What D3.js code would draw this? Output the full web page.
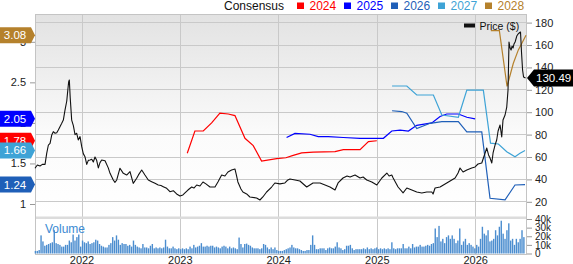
<!DOCTYPE html>
<html>
<head>
<meta charset="utf-8">
<script src="https://cdn.jsdelivr.net/npm/d3@7"></script>
<style>
  body { margin: 0; background: #fff; }
  text { font-family: "Liberation Sans", Arial, sans-serif; }
</style>
</head>
<body>
<div id="chart"></div>
<script>
// ---- data (times are decimal years) ----
const priceTimes = [2021.522, 2021.546, 2021.573, 2021.597, 2021.624, 2021.641, 2021.658, 2021.675, 2021.692, 2021.708,
  2021.726, 2021.743, 2021.759, 2021.776, 2021.794, 2021.81, 2021.827, 2021.845, 2021.856, 2021.864,
  2021.871, 2021.88, 2021.895, 2021.912, 2021.929, 2021.946, 2021.962, 2021.98, 2021.997, 2022.013,
  2022.03, 2022.048, 2022.064, 2022.081, 2022.099, 2022.115, 2022.132, 2022.149, 2022.166, 2022.183,
  2022.2, 2022.234, 2022.267, 2022.285, 2022.318, 2022.335, 2022.353, 2022.386, 2022.42, 2022.454,
  2022.488, 2022.521, 2022.556, 2022.574, 2022.607, 2022.64, 2022.674, 2022.708, 2022.742, 2022.775,
  2022.803, 2022.826, 2022.861, 2022.894, 2022.928, 2022.962, 2022.996, 2023.026, 2023.047, 2023.077,
  2023.115, 2023.138, 2023.166, 2023.199, 2023.23, 2023.26, 2023.301, 2023.352, 2023.382, 2023.42,
  2023.453, 2023.484, 2023.521, 2023.555, 2023.57, 2023.585, 2023.616, 2023.636, 2023.674, 2023.707,
  2023.775, 2023.809, 2023.839, 2023.877, 2023.928, 2023.961, 2024.012, 2024.063, 2024.093, 2024.114,
  2024.165, 2024.215, 2024.284, 2024.348, 2024.419, 2024.47, 2024.52, 2024.571, 2024.602, 2024.652,
  2024.693, 2024.724, 2024.774, 2024.825, 2024.856, 2024.893, 2024.944, 2024.995, 2025.046, 2025.097,
  2025.12, 2025.147, 2025.161, 2025.211, 2025.262, 2025.3, 2025.351, 2025.401, 2025.452, 2025.503,
  2025.554, 2025.567, 2025.587, 2025.638, 2025.706, 2025.757, 2025.791, 2025.821, 2025.841, 2025.872,
  2025.91, 2025.96, 2025.994, 2026.024, 2026.062, 2026.096, 2026.113, 2026.131, 2026.146, 2026.164,
  2026.177, 2026.197, 2026.214, 2026.228, 2026.248, 2026.265, 2026.278, 2026.299, 2026.316, 2026.329,
  2026.339, 2026.35, 2026.36, 2026.37, 2026.38, 2026.39, 2026.401, 2026.418, 2026.431, 2026.441,
  2026.456, 2026.466, 2026.477, 2026.487, 2026.507];
const priceValues = [50.0, 52.9, 52.0, 53.4, 53.4, 63.3, 70.7, 72.2, 79.6, 82.6,
  81.2, 81.7, 84.1, 87.1, 90.1, 93.0, 101.9, 110, 120, 127,
  128.8, 113, 93, 88, 80, 81.2, 75.2, 78.2, 69.2, 63,
  60.3, 53.4, 57, 57.3, 58, 55.5, 60, 57, 50.3, 55,
  57.3, 56.6, 50.3, 45.4, 39.5, 37.4, 39.5, 50.0, 45.4, 43.9,
  46.9, 36.5, 41, 44, 48.4, 43.9, 39.5, 38, 36.5, 35,
  34.5, 33.5, 32, 29, 29.9, 27, 25.2, 26.1, 27.9, 30.5,
  33.2, 32.3, 35, 34.1, 37.7, 36, 33.2, 33.2, 37.7, 43.9,
  43, 46.6, 48.4, 49.3, 43.9, 37.7, 31.4, 28.75, 27, 24.3,
  23.4, 21.6, 24.3, 28.75, 33.2, 36.8, 36, 36.8, 39.5, 40.4,
  39.5, 38.6, 33.2, 36.8, 36.8, 35, 33.2, 30.5, 36.8, 41.25,
  43, 42.1, 43.9, 41.25, 42.1, 39.5, 37.7, 35, 41.25, 45.7,
  43, 43.9, 41.25, 33.2, 27.9, 32.3, 30.5, 28.75, 27.9, 28.75,
  28.75, 27, 32.3, 33.2, 36.8, 39.5, 41.25, 45.7, 50.2, 46.6,
  48.4, 50.2, 51.1, 53.75, 54.6, 63.6, 68, 61.8, 59.1, 54.6,
  63.6, 70.7, 75.2, 83.2, 88.6, 77.9, 93, 97.5, 104.6, 119.8,
  162.7, 157.3, 155.5, 159.1, 157.3, 160.9, 162.7, 168, 169.8, 170.7,
  171.6, 153.75, 137.7, 131.4, 130.49];

const eps2024Times = [2023.07, 2023.148, 2023.233, 2023.318, 2023.402, 2023.487, 2023.555, 2023.657, 2023.741, 2023.826,
  2023.979, 2024.073, 2024.147, 2024.233, 2024.351, 2024.571, 2024.655, 2024.825, 2024.91, 2024.995];
const eps2024Values = [1.625, 1.90, 1.90, 2.0, 2.12, 2.11, 2.09, 1.81, 1.72, 1.53,
  1.56, 1.57, 1.60, 1.63, 1.64, 1.645, 1.67, 1.67, 1.77, 1.78];

const eps2025Times = [2024.08, 2024.165, 2024.317, 2024.401, 2024.503, 2024.655, 2024.825, 2025.062, 2025.147, 2025.232,
  2025.316, 2025.401, 2025.554, 2025.638, 2025.706, 2025.824, 2025.91, 2025.994];
const eps2025Values = [1.82, 1.87, 1.86, 1.83, 1.83, 1.82, 1.81, 1.81, 1.90, 1.91,
  1.90, 1.97, 2.00, 2.08, 2.11, 2.11, 2.07, 2.05];

const eps2026Times = [2025.15, 2025.249, 2025.3, 2025.401, 2025.537, 2025.656, 2025.824, 2025.91, 2026.062, 2026.146,
  2026.299, 2026.4, 2026.502];
const eps2026Values = [2.15, 2.14, 2.12, 1.93, 1.995, 2.015, 2.015, 1.89, 1.89, 1.07,
  1.05, 1.234, 1.24];

const eps2027Times = [2025.15, 2025.3, 2025.401, 2025.57, 2025.656, 2025.824, 2025.91, 2026.078, 2026.151, 2026.231,
  2026.316, 2026.4, 2026.451, 2026.502];
const eps2027Values = [2.455, 2.455, 2.344, 2.344, 2.097, 2.07, 2.405, 2.405, 1.75, 1.74,
  1.645, 1.583, 1.625, 1.66];

const eps2028Times = [2026.154, 2026.241, 2026.319, 2026.383, 2026.434, 2026.512];
const eps2028Values = [3.137, 3.137, 2.45, 2.735, 2.9, 3.08];

// weekly volume in thousands, first week starting volumeStart
const volumeStart = "2021-07-12";
const volumeValues = [3, 3, 4, 21, 14, 9, 10, 11, 12, 13, 27, 12, 11, 10, 8, 8, 10, 10, 15, 13,
  22, 15, 19, 22, 8, 15, 13, 12, 14, 11, 12, 13, 16, 15, 11, 9, 8, 7, 7, 10,
  12, 19, 15, 21, 16, 10, 12, 11, 11, 9, 10, 8, 15, 10, 8, 7, 6, 11, 7, 7,
  6, 9, 11, 6, 7, 6, 7, 6, 7, 16, 8, 6, 6, 8, 6, 5, 6, 5, 6, 5,
  6, 5, 8, 6, 10, 7,
  8, 9, 12, 8, 8, 9, 8, 9, 9, 7, 8, 7, 6, 8, 9, 8, 6, 8, 6, 7,
  6, 5, 18.5, 11, 7, 11, 11.5, 10, 9, 7, 6, 6, 6, 5, 6, 11, 10, 7, 5, 7,
  5, 7, 4, 3, 3, 3, 4, 5, 6, 7, 10, 7, 6, 6, 5, 4, 3, 3, 4, 4,
  10, 21, 10, 5, 5, 6, 6, 6, 4, 6, 7, 6, 6, 8, 13, 7, 6, 4, 5, 9,
  9, 10, 6, 4, 5, 5, 5,
  5, 6, 5, 7, 5, 6, 5, 6, 7, 5,
  6, 5, 6, 5, 6, 5, 13, 6, 5, 6, 6, 6, 11, 6, 6, 8, 6, 11, 7, 8,
  8, 10, 8, 8, 9, 10, 9, 11, 12, 29, 19, 32, 14, 17, 12, 19, 21, 17, 21, 17,
  12, 15, 29, 10, 14, 17, 10, 12, 10, 8, 6, 10, 8, 17, 31, 23, 21, 27, 14, 15,
  17, 27, 21, 31, 38, 23, 17, 27, 35, 15, 17, 10, 17, 13, 17, 27, 19];

const priceTicks = [20, 40, 60, 80, 100, 120, 140, 160, 180];
const epsTicks = [1, 1.5, 2, 2.5, 3];
const volumeTicks = [0, 10, 20, 30, 40];
const volumeTickLabels = ["0", "10k", "20k", "30k", "40k"];
const yearTicks = [2022, 2023, 2024, 2025, 2026];
const legendYears = ["2024", "2025", "2026", "2027", "2028"];

// ---- layout ----
const svgWidth = 573;
const svgHeight = 264;
const plotLeft = 35, plotRight = 527, plotTop = 14;
const priceBottom = 216.5, volTop = 219, volBottom = 253.5;

const colors = {
  "2024": "#ff0000",
  "2025": "#0000ff",
  "2026": "#1f5fb8",
  "2027": "#3ea3d6",
  "2028": "#b5812c"
};
const gridColor = "#c9c9c9";
const textColor = "#222";

const yearToDate = t => {
  const y = Math.floor(t);
  const a = new Date(y, 0, 1), b = new Date(y + 1, 0, 1);
  return new Date(a.getTime() + (t - y) * (b - a));
};

const x = d3.scaleTime()
  .domain([yearToDate(2021.522), yearToDate(2026.522)])
  .range([plotLeft, plotRight]);
const yPrice = d3.scaleLinear().domain([0, 180]).range([224.2, 22.6]);
const yEps = d3.scaleLinear().domain([1, 3]).range([204, 41.8]);
const yVol = d3.scaleLinear().domain([0, 40]).range([volBottom, volTop]);

const svg = d3.select("#chart").append("svg")
  .attr("width", svgWidth)
  .attr("height", svgHeight);

// background gradient for price pane
const grad = svg.append("defs").append("linearGradient")
  .attr("id", "bg").attr("x1", 0).attr("y1", 0).attr("x2", 0).attr("y2", 1);
grad.append("stop").attr("offset", "0").attr("stop-color", "#e2e2e2");
grad.append("stop").attr("offset", "0.6").attr("stop-color", "#fbfbfb");
grad.append("stop").attr("offset", "1").attr("stop-color", "#ffffff");

svg.append("rect")
  .attr("x", plotLeft).attr("y", plotTop)
  .attr("width", plotRight - plotLeft).attr("height", priceBottom - plotTop)
  .attr("fill", "url(#bg)");

// grid
const grid = svg.append("g").attr("shape-rendering", "crispEdges");
grid.selectAll(".hgrid").data(priceTicks).enter().append("line")
  .attr("x1", plotLeft).attr("x2", plotRight)
  .attr("y1", d => yPrice(d)).attr("y2", d => yPrice(d))
  .attr("stroke", gridColor);
grid.selectAll(".vgrid").data(yearTicks).enter().append("line")
  .attr("x1", d => x(new Date(d, 0, 1))).attr("x2", d => x(new Date(d, 0, 1)))
  .attr("y1", plotTop).attr("y2", volBottom)
  .attr("stroke", gridColor);

// separator between price and volume panes
svg.append("rect")
  .attr("x", plotLeft).attr("y", priceBottom)
  .attr("width", plotRight - plotLeft).attr("height", volTop - priceBottom)
  .attr("fill", "#dcdcdc");

// frame
svg.append("rect")
  .attr("x", plotLeft + 0.5).attr("y", plotTop + 0.5)
  .attr("width", plotRight - plotLeft - 1).attr("height", volBottom - plotTop)
  .attr("fill", "none").attr("stroke", "#c4c4c4")
  .attr("shape-rendering", "crispEdges");

// volume bars
const volStartDate = d3.timeParse("%Y-%m-%d")(volumeStart);
svg.append("g").selectAll("rect")
  .data(volumeValues)
  .enter().append("rect")
  .attr("x", (d, i) => x(d3.timeWeek.offset(volStartDate, i)) - 0.7)
  .attr("y", d => yVol(d))
  .attr("width", 1.4)
  .attr("height", d => yVol(0) - yVol(d))
  .attr("fill", "#4b8dcf");

svg.append("text")
  .attr("x", 45).attr("y", 232.5)
  .attr("font-size", 12)
  .attr("fill", "#3b8ad2")
  .text("Volume");

// consensus lines
const epsSeries = [
  { year: "2024", times: eps2024Times, values: eps2024Values },
  { year: "2025", times: eps2025Times, values: eps2025Values },
  { year: "2026", times: eps2026Times, values: eps2026Values },
  { year: "2027", times: eps2027Times, values: eps2027Values },
  { year: "2028", times: eps2028Times, values: eps2028Values }
];
const epsLine = d3.line()
  .x(d => x(yearToDate(d[0])))
  .y(d => yEps(d[1]));
svg.append("g").selectAll("path")
  .data(epsSeries)
  .enter().append("path")
  .attr("d", s => epsLine(s.times.map((t, i) => [t, s.values[i]])))
  .attr("fill", "none")
  .attr("stroke", s => colors[s.year])
  .attr("stroke-width", 1.2);

// price line
const priceLine = d3.line()
  .x(d => x(yearToDate(d[0])))
  .y(d => yPrice(d[1]));
svg.append("path")
  .attr("d", priceLine(priceTimes.map((t, i) => [t, priceValues[i]])))
  .attr("fill", "none")
  .attr("stroke", "#111")
  .attr("stroke-width", 1.1)
  .attr("stroke-linejoin", "round");

// price legend
svg.append("rect")
  .attr("x", 464).attr("y", 23.5).attr("width", 11).attr("height", 4)
  .attr("fill", "#111");
svg.append("text")
  .attr("x", 479.5).attr("y", 29.5)
  .attr("font-size", 10.5)
  .attr("fill", "#111")
  .text("Price ($)");

// right axis (price)
const rightAxis = svg.append("g")
  .attr("transform", `translate(${plotRight},0)`)
  .call(d3.axisRight(yPrice).tickValues(priceTicks).tickSize(5).tickPadding(3));
// right axis (volume)
const volAxis = svg.append("g")
  .attr("transform", `translate(${plotRight},0)`)
  .call(d3.axisRight(yVol).tickValues(volumeTicks).tickSize(5).tickPadding(3)
    .tickFormat((d, i) => volumeTickLabels[i]));
// left axis (eps)
const leftAxis = svg.append("g")
  .attr("transform", `translate(${plotLeft},0)`)
  .call(d3.axisLeft(yEps).tickValues(epsTicks).tickSize(5).tickPadding(4)
    .tickFormat(d3.format("")));

[rightAxis, volAxis, leftAxis].forEach(g => {
  g.select(".domain").remove();
  g.selectAll(".tick line").attr("stroke", "#999");
  g.selectAll(".tick text")
    .attr("fill", textColor)
    .attr("font-size", g === volAxis ? 10 : 11)
    .attr("font-family", "'Liberation Sans', Arial, sans-serif");
});

// year labels
svg.append("g").selectAll("text")
  .data(yearTicks)
  .enter().append("text")
  .attr("x", d => x(new Date(d, 0, 1)))
  .attr("y", 264)
  .attr("text-anchor", "middle")
  .attr("font-size", 11)
  .attr("fill", textColor)
  .text(d => d);

// left flags with latest consensus values
const flagOrder = ["2028", "2025", "2024", "2027", "2026"];
const flags = svg.append("g");
flagOrder.forEach(yr => {
  const s = epsSeries.find(e => e.year === yr);
  const v = s.values[s.values.length - 1];
  const yy = yEps(v);
  flags.append("path")
    .attr("d", `M0,${yy - 8}H31L35,${yy}L31,${yy + 8}H0Z`)
    .attr("fill", colors[yr]);
  flags.append("text")
    .attr("x", 15).attr("y", yy + 4)
    .attr("text-anchor", "middle")
    .attr("font-size", 11.5)
    .attr("fill", "#fff")
    .text(d3.format(".2f")(v));
});

// last price flag
const lastPrice = priceValues[priceValues.length - 1];
const py = yPrice(lastPrice);
svg.append("path")
  .attr("d", `M${plotRight},${py}L${plotRight + 7},${py - 8.5}H${svgWidth}V${py + 8.5}H${plotRight + 7}Z`)
  .attr("fill", "#000");
svg.append("text")
  .attr("x", plotRight + 9).attr("y", py + 4)
  .attr("font-size", 11.5)
  .attr("fill", "#fff")
  .text(d3.format(".2f")(lastPrice));

// top legend
svg.append("text")
  .attr("x", 224).attr("y", 9.5)
  .attr("font-size", 12)
  .attr("fill", "#111")
  .text("Consensus");
const legend = svg.append("g").selectAll("g")
  .data(legendYears)
  .enter().append("g")
  .attr("transform", (d, i) => `translate(${297 + i * 47},0)`);
legend.append("rect")
  .attr("x", 0).attr("y", 2.5).attr("width", 7).attr("height", 6.5)
  .attr("fill", d => colors[d]);
legend.append("text")
  .attr("x", 12.5).attr("y", 9.5)
  .attr("font-size", 12)
  .attr("fill", d => colors[d])
  .text(d => d);
</script>
</body>
</html>
